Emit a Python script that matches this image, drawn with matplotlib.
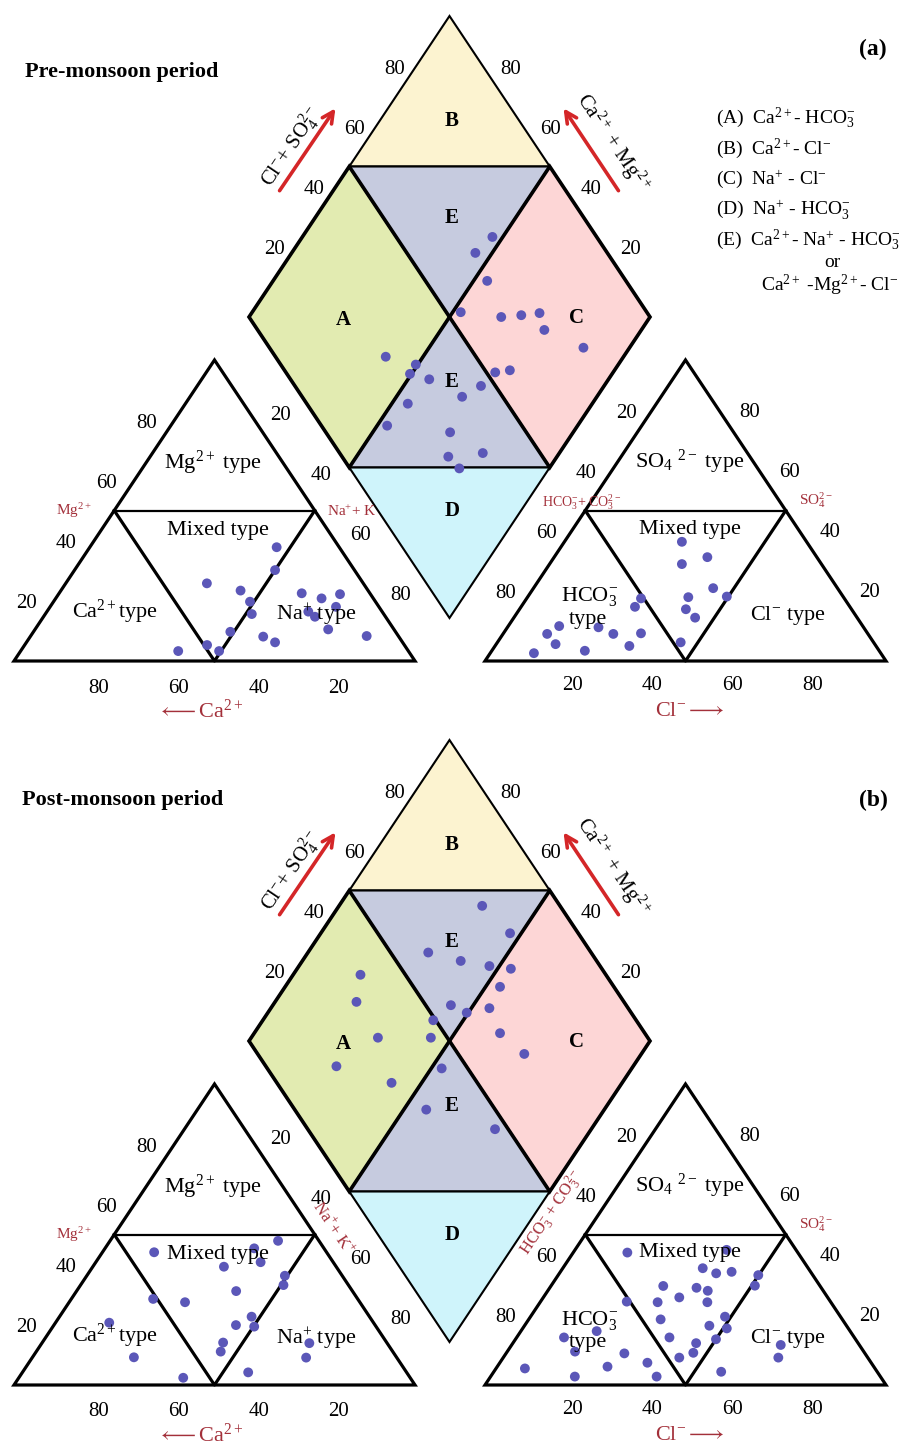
import numpy as np
import matplotlib
matplotlib.use("Agg")
from matplotlib import pyplot as plt
from matplotlib.patches import Polygon

plt.rcParams['font.family'] = ['Liberation Serif', 'DejaVu Serif']
plt.rcParams['mathtext.fontset'] = 'custom'
plt.rcParams['mathtext.rm'] = 'Liberation Serif'
plt.rcParams['mathtext.it'] = 'Liberation Serif:italic'
plt.rcParams['mathtext.bf'] = 'Liberation Serif:bold'

# cation triangle: Mg and Na+K in % (Ca = rest)
pre_mg = [37.8, 30.2, 25.8, 23.4, 19.7, 15.6, 9.7, 5.3, 3.3, 3.3, 22.5, 20.8, 22.2, 18.0, 16.4, 14.7, 10.5, 8.1, 6.2, 8.3]
pre_na = [46.6, 50.0, 35.2, 44.8, 49.0, 51.5, 49.1, 45.5, 49.5, 39.3, 60.5, 66.3, 70.2, 71.3, 65.2, 67.7, 73.1, 58.1, 62.0, 83.8]
post_mg = [44.1, 45.4, 47.9, 39.3, 40.8, 36.3, 33.2, 31.2, 28.6, 27.5, 20.7, 19.9, 22.7, 19.4, 14.1, 11.1, 9.2, 2.4, 4.2, 13.9, 9.1]
post_na = [12.9, 37.2, 41.9, 32.7, 41.1, 49.4, 50.6, 39.8, 20.4, 28.9, 13.4, 45.4, 47.9, 50.2, 45.1, 46.0, 25.3, 41.0, 56.3, 66.7, 68.3]

# anion triangle: SO4 and Cl in % (HCO3+CO3 = rest)
pre_so4 = [39.6, 34.5, 32.2, 24.2, 21.4, 21.2, 17.2, 14.4, 6.2, 20.8, 18.0, 11.6, 9.0, 5.6, 2.6, 3.4, 11.2, 9.0, 5.0, 9.2]
pre_cl = [29.3, 38.2, 33.0, 44.8, 49.6, 40.1, 41.5, 45.2, 45.7, 28.5, 28.4, 12.7, 11.0, 14.8, 10.9, 23.2, 22.7, 27.5, 33.5, 34.3]
post_so4 = [44.0, 44.9, 38.8, 37.1, 37.6, 36.5, 33.0, 32.9, 32.3, 31.3, 29.1, 27.5, 27.5, 27.7, 21.8, 22.7, 18.8, 19.7,
            15.8, 15.2, 13.9, 10.7, 9.1, 4.4, 17.9, 15.8, 11.1, 10.5, 6.1, 7.4, 5.5, 2.8, 2.8, 13.3, 9.1]
post_cl = [13.5, 37.8, 34.9, 39.1, 42.7, 49.9, 50.8, 28.0, 36.6, 39.9, 33.9, 29.3, 41.7, 21.5, 32.9, 48.5, 50.9, 46.1,
           38.1, 50.0, 45.7, 46.6, 43.9, 56.7, 18.9, 11.8, 16.9, 29.5, 27.5, 36.8, 7.2, 21.0, 41.4, 67.1, 68.6]

# diamond: Cl+SO4 % and Ca+Mg %
pre_dia_an = [74.0, 67.1, 65.4, 53.6, 62.9, 68.2, 73.1, 71.5, 78.3, 27.5, 33.7, 30.7, 34.6, 52.2, 56.2, 46.4, 39.9,
              25.2, 16.4, 31.0, 35.7, 26.5, 27.3]
pre_dia_cat = [52.6, 54.2, 46.6, 48.0, 37.1, 32.4, 28.2, 24.2, 11.5, 59.3, 50.5, 50.4, 44.7, 29.4, 26.1, 30.7, 33.6,
               46.0, 47.5, 30.7, 19.1, 27.1, 22.4]
post_dia_an = [80.6, 83.0, 59.4, 66.1, 72.4, 77.3, 71.6, 38.8, 33.3, 56.3, 59.0, 65.4, 49.4, 32.7, 45.9, 63.9, 66.5,
               17.6, 28.6, 43.5, 32.8, 46.7]
post_dia_cat = [64.3, 52.8, 70.0, 60.5, 52.5, 46.7, 46.4, 83.2, 79.7, 55.6, 50.4, 45.5, 57.5, 68.4, 55.2, 38.7, 29.2,
                74.0, 57.5, 47.4, 44.4, 24.0]

ticks = [20, 40, 60, 80]

# layout in pixels
W, H = 401.0, 301.0
CAT_X0, AN_X0, BASE_Y = 14.0, 485.0, 661.0
DIA_X, DIA_Y = 449.5, 618.0

PT = '#5b57b8'
RED = '#a3303a'
ARROW = '#d42628'


def cat_xy(mg, na, oy):
    mg, na = np.asarray(mg), np.asarray(na)
    return CAT_X0 + W * (na + mg / 2) / 100, BASE_Y + oy - H * mg / 100


def an_xy(so4, cl, oy):
    so4, cl = np.asarray(so4), np.asarray(cl)
    return AN_X0 + W * (cl + so4 / 2) / 100, BASE_Y + oy - H * so4 / 100


def dia_xy(s, c, oy):
    s, c = np.asarray(s), np.asarray(c)
    return DIA_X + W / 200 * (s - c), DIA_Y + oy - H / 100 * (s + c)


def poly(ax, pts, fc='none', lw=2.0, z=2):
    ax.add_patch(Polygon(pts, closed=True, fc=fc, ec='black', lw=lw, zorder=z, joinstyle='miter'))


def triangle(ax, f, oy):
    corners = [f(0, 0, oy), f(0, 100, oy), f(100, 0, oy)]
    mids = [f(50, 0, oy), f(0, 50, oy), f(50, 50, oy)]
    poly(ax, corners, lw=2.3)
    ax.plot([mids[0][0], mids[2][0]], [mids[0][1], mids[2][1]], color='black', lw=1.6, zorder=3)
    ax.plot([mids[0][0], mids[1][0], mids[2][0]], [mids[0][1], mids[1][1], mids[2][1]],
            color='black', lw=2.3, zorder=3)


def txt(ax, x, y, s, size=15, **kw):
    kw.setdefault('ha', 'center')
    kw.setdefault('va', 'center')
    ax.text(x, y, s, fontsize=size, zorder=6, **kw)


def draw_panel(ax, oy, mg, na, so4, cl, d_an, d_cat, rotated):
    # diamond fields
    regions = [
        ([(0, 100), (50, 100), (50, 50), (0, 50)], '#e2ebb1', 2.6),
        ([(50, 100), (100, 100), (100, 50)], '#fcf3d0', 1.5),
        ([(50, 100), (100, 50), (50, 50)], '#c6cbdf', 1.5),
        ([(50, 50), (100, 50), (100, 0), (50, 0)], '#fdd6d6', 2.6),
        ([(50, 50), (50, 0), (0, 50)], '#c6cbdf', 1.5),
        ([(0, 50), (50, 0), (0, 0)], '#cff4fb', 1.5),
    ]
    for pts, fc, lw in regions:
        poly(ax, [dia_xy(s, c, oy) for s, c in pts], fc=fc, lw=1.5, z=1)
    for pts, fc, lw in (regions[0], regions[3]):
        poly(ax, [dia_xy(s, c, oy) for s, c in pts], lw=lw, z=2)

    triangle(ax, cat_xy, oy)
    triangle(ax, an_xy, oy)

    # tick labels
    for v in ticks:
        x, y = cat_xy(v, 0, oy); txt(ax, x - 28, y + 3, str(v))
        x, y = cat_xy(100 - v, v, oy); txt(ax, x + 26, y - 5, str(v))
        x, y = cat_xy(0, 100 - v, oy); txt(ax, x + 4, y + 27, str(v))
        x, y = an_xy(100 - v, 0, oy); txt(ax, x - 19, y - 7, str(v))
        x, y = an_xy(v, 100 - v, oy); txt(ax, x + 24, y - 8, str(v))
        x, y = an_xy(0, v, oy); txt(ax, x + 7, y + 24, str(v))
        x, y = dia_xy(v, 100, oy); txt(ax, x - 15, y - 7, str(v))
        x, y = dia_xy(100, v, oy); txt(ax, x + 21, y - 7, str(v))

    # field letters
    bold = dict(fontweight='bold', size=15)
    txt(ax, 343, 320 + oy, 'A', **bold)
    txt(ax, 452, 121 + oy, 'B', **bold)
    txt(ax, 452, 218 + oy, 'E', **bold)
    txt(ax, 576, 318 + oy, 'C', **bold)
    txt(ax, 452, 382 + oy, 'E', **bold)
    txt(ax, 452, 511 + oy, 'D', **bold)

    # triangle field names
    txt(ax, 213, 463 + oy, r'Mg$^{2+}$ type', 16)
    txt(ax, 218, 530 + oy, 'Mixed type', 16)
    txt(ax, 115, 612 + oy, r'Ca$^{2+}$type', 16)
    txt(ax, 316, 615 + oy, r'Na$^{+}$ type', 16)
    txt(ax, 690, 462 + oy, r'SO$_4$ $^{2-}$ type', 16)
    txt(ax, 690, 529 + oy, 'Mixed type', 16)
    txt(ax, 590, 596 + oy, r'HCO$_3^{-}$', 16)
    txt(ax, 588, 619 + oy, 'type', 16)
    txt(ax, 788, 615 + oy, r'Cl$^{-}$ type', 16)

    # axis names
    txt(ax, 200, 711 + oy, r'$\longleftarrow$Ca$^{2+}$', 16, color=RED)
    txt(ax, 690, 711 + oy, r'Cl$^{-}$$\longrightarrow$', 16, color=RED)
    txt(ax, 74, 511 + oy, r'Mg$^{2+}$', 11, color=RED)
    txt(ax, 816, 500 + oy, r'SO$_4^{2-}$', 11, color=RED)
    if rotated:
        txt(ax, 333, 504 + oy, r'Na$^{+}$+ K$^{+}$', 12, color=RED, rotation=-56)
        txt(ax, 552, 489 + oy, r'HCO$_3^{-}$ + CO$_3^{2-}$', 12, color=RED, rotation=56)
    else:
        txt(ax, 352, 511 + oy, r'Na$^{+}$+ K', 11, color=RED)
        txt(ax, 582, 502 + oy, r'HCO$_3^{-}$+ CO$_3^{2-}$', 10, color=RED)

    # arrows on the diamond
    ax.annotate('', xy=(337, 106 + oy), xytext=(278, 193 + oy),
                arrowprops=dict(arrowstyle='->', color=ARROW, lw=2.6, mutation_scale=20), zorder=6)
    ax.annotate('', xy=(562, 106 + oy), xytext=(620, 193 + oy),
                arrowprops=dict(arrowstyle='->', color=ARROW, lw=2.6, mutation_scale=20), zorder=6)
    txt(ax, 292, 147 + oy, r'Cl$^{-}$+ SO$_4^{2-}$', 15, rotation=56)
    txt(ax, 613, 143 + oy, r'Ca$^{2+}$ + Mg$^{2+}$', 15, rotation=-56)

    # samples
    for f, a, b in ((cat_xy, mg, na), (an_xy, so4, cl), (dia_xy, d_an, d_cat)):
        x, y = f(a, b, oy)
        ax.scatter(x, y, s=50, color=PT, edgecolors='none', zorder=5)


fig = plt.figure(figsize=(9.21, 14.5), dpi=100)
ax = fig.add_axes([0, 0, 1, 1])
ax.set_xlim(0, 921)
ax.set_ylim(1450, 0)
ax.axis('off')

draw_panel(ax, 0, pre_mg, pre_na, pre_so4, pre_cl, pre_dia_an, pre_dia_cat, False)
draw_panel(ax, 724, post_mg, post_na, post_so4, post_cl, post_dia_an, post_dia_cat, True)

ax.text(25, 72, 'Pre-monsoon period', fontsize=16, fontweight='bold', va='center')
ax.text(22, 800, 'Post-monsoon period', fontsize=16, fontweight='bold', va='center')
ax.text(873, 49, '(a)', fontsize=17, fontweight='bold', ha='center', va='center')
ax.text(873, 800, '(b)', fontsize=17, fontweight='bold', ha='center', va='center')

# water type key
key = [r'(A)  Ca$^{2+}$- HCO$_3^{-}$', r'(B)  Ca$^{2+}$- Cl$^{-}$', r'(C)  Na$^{+}$ - Cl$^{-}$',
       r'(D)  Na$^{+}$ - HCO$_3^{-}$', r'(E)  Ca$^{2+}$- Na$^{+}$ - HCO$_3^{-}$']
for i, s in enumerate(key):
    ax.text(716, 118 + i * 30.5, s, fontsize=14, va='center')
ax.text(832, 262, 'or', fontsize=14, ha='center', va='center')
ax.text(830, 285, r'Ca$^{2+}$ -Mg$^{2+}$- Cl$^{-}$', fontsize=14, ha='center', va='center')

fig.savefig('out.png', dpi=100)
